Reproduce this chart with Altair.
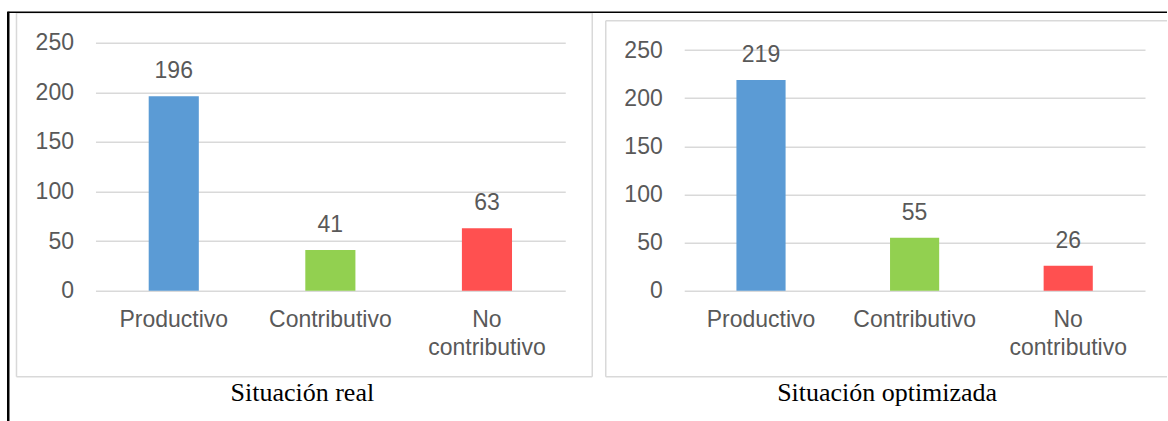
import altair as alt
import pandas as pd

categories = ["Productivo", "Contributivo", "No contributivo"]
real_values = [196, 41, 63]
optimized_values = [219, 55, 26]
bar_colors = ["#5B9BD5", "#92D050", "#FF5050"]
y_ticks = [0, 50, 100, 150, 200, 250]
panel_titles = ["Situación real", "Situación optimizada"]

FONT = "Liberation Sans"
GRAY = "#595959"
GRID = "#D9D9D9"
FS = 23


def rule(**enc):
    return alt.Chart(pd.DataFrame({"k": [0]})).mark_rule(
        color=enc.pop("color"), strokeWidth=enc.pop("sw")
    ).encode(**{k: alt.value(v) for k, v in enc.items()})


def panel(values, width, y_range, title, title_x, extras):
    df = pd.DataFrame({"categoria": categories, "valor": values})
    x = alt.X(
        "categoria:N", sort=categories, title=None,
        scale=alt.Scale(paddingInner=0.68, paddingOuter=0.34),
        axis=alt.Axis(
            labelAngle=0, labelFont=FONT, labelFontSize=FS, labelColor=GRAY,
            labelPadding=18, labelLineHeight=28, ticks=False, tickSize=0,
            domain=False, grid=False, labelOverlap=False,
            labelExpr="datum.label == 'No contributivo' ? ['No', 'contributivo'] : datum.label",
        ),
    )
    y = alt.Y(
        "valor:Q", title=None,
        scale=alt.Scale(domain=[0, 250], range=y_range, nice=False),
        axis=alt.Axis(
            values=y_ticks, labelFont=FONT, labelFontSize=FS, labelColor=GRAY,
            labelPadding=22, ticks=False, tickSize=0, domain=False,
            gridColor=GRID, gridWidth=1.5,
        ),
    )
    bars = alt.Chart(df).mark_bar().encode(
        x=x, y=y,
        color=alt.Color("categoria:N", scale=alt.Scale(domain=categories, range=bar_colors), legend=None),
    )
    labels = alt.Chart(df).mark_text(
        dy=-18, baseline="alphabetic", font=FONT, fontSize=FS, color=GRAY
    ).encode(x=alt.X("categoria:N", sort=categories), y="valor:Q", text="valor:Q")
    ttl = alt.Chart(pd.DataFrame({"t": [title]})).mark_text(
        font="Liberation Serif", fontSize=26, color="black", baseline="alphabetic", align="center"
    ).encode(x=alt.value(title_x), y=alt.value(358), text="t:N")
    return alt.layer(*extras, bars, labels, ttl).properties(width=width, height=248)


left_extras = [
    # gray chart frame
    rule(color=GRID, sw=1.5, x=-79, x2=497, y=-30),
    rule(color=GRID, sw=1.5, x=-79, x2=497, y=334),
    rule(color=GRID, sw=1.5, x=-79, y=-30, y2=334),
    rule(color=GRID, sw=1.5, x=497, y=-30, y2=334),
    # black table borders
    rule(color="black", sw=1.5, x=-88, x2=1072, y=-30.5),
    rule(color="black", sw=2.5, x=-87.25, y=-31, y2=380),
]
right_extras = [
    rule(color=GRID, sw=1.5, x=-78.5, x2=483, y=-22),
    rule(color=GRID, sw=1.5, x=-78.5, x2=483, y=334),
    rule(color=GRID, sw=1.5, x=-78.5, y=-22, y2=334),
]

left = panel(real_values, 470, [248, 0], panel_titles[0], 207, left_extras)
right = panel(optimized_values, 461, [248, 7.3], panel_titles[1], 203, right_extras)

chart = alt.hconcat(left, right, spacing=119, bounds="flush").properties(
    padding={"left": 6.5, "top": 9.75, "right": 0, "bottom": 0}
).configure_view(stroke=None)

chart.save("out.html", embed_options={"renderer": "svg", "actions": False})
